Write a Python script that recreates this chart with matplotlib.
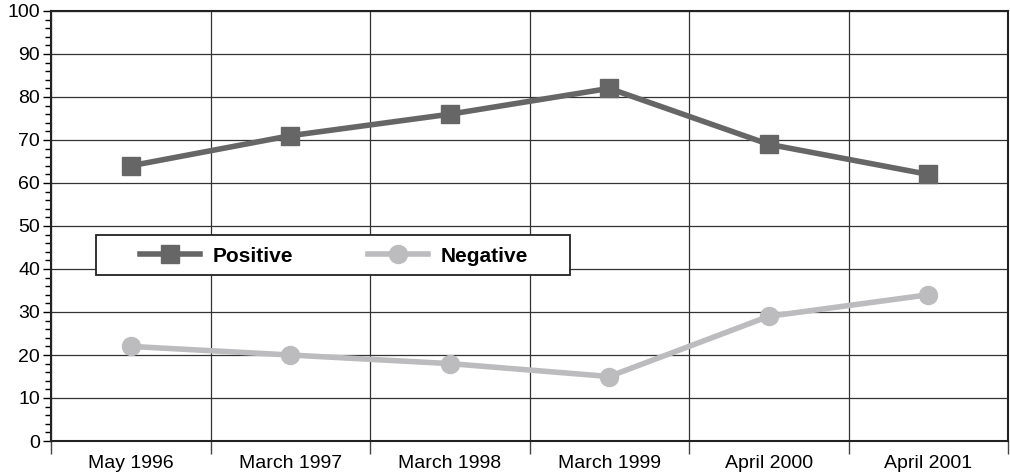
import numpy as np
import matplotlib
matplotlib.use('Agg')
from matplotlib import pyplot as plt
from matplotlib.patches import Rectangle
from matplotlib.ticker import MultipleLocator, FixedLocator, NullFormatter, FixedFormatter

# Данные графика
dates = ['May 1996', 'March 1997', 'March 1998', 'March 1999', 'April 2000', 'April 2001']
positive = [64, 71, 76, 82, 69, 62]
negative = [22, 20, 18, 15, 29, 34]

plt.rcParams['font.family'] = ['Liberation Sans', 'DejaVu Sans']

fig = plt.figure(figsize=(10.1, 4.75), dpi=100)
ax = fig.add_axes([51 / 1010, 1 - 441 / 475, 957 / 1010, 430 / 475])

x = np.arange(len(dates))
ax.plot(x, positive, color='#666666', lw=4, marker='s', markersize=13,
        label='Positive', zorder=3)
ax.plot(x, negative, color='#bcbcbe', lw=4, marker='o', markersize=13,
        label='Negative', zorder=3)

ax.set_xlim(-0.5, len(dates) - 0.5)
ax.set_ylim(0, 100)

# Границы категорий - сетка и засечки, подписи по центру.
ax.xaxis.set_major_locator(FixedLocator(np.arange(-0.5, len(dates), 1.0)))
ax.xaxis.set_major_formatter(NullFormatter())
ax.xaxis.set_minor_locator(FixedLocator(x))
ax.xaxis.set_minor_formatter(FixedFormatter(dates))
ax.tick_params(axis='x', which='major', length=9, width=1, color='#444444')
ax.tick_params(axis='x', which='minor', length=0, labelsize=14, pad=10)

ax.yaxis.set_major_locator(MultipleLocator(10))
ax.yaxis.set_minor_locator(MultipleLocator(2))
ax.tick_params(axis='y', which='major', length=6, width=1, labelsize=14, pad=2)
ax.tick_params(axis='y', which='minor', length=4, width=1)

ax.grid(True, which='major', axis='both', color='#333333', lw=0.9)
for s in ax.spines.values():
    s.set_color('#222222')
    s.set_linewidth(1.5)

# Рамка легенды рисуется отдельно.
ax.add_patch(Rectangle((0.047, 0.386), 0.495, 0.093, transform=ax.transAxes,
                       facecolor='white', edgecolor='#222222', lw=1.3, zorder=5))
leg = ax.legend(loc='center left', bbox_to_anchor=(0.093, 0.43), ncol=2,
                frameon=False, prop={'weight': 'bold', 'size': 15},
                handlelength=2.9, handletextpad=0.58, columnspacing=3.6,
                borderpad=0, borderaxespad=0)
leg.set_zorder(6)

fig.savefig('out.png', dpi=100)
